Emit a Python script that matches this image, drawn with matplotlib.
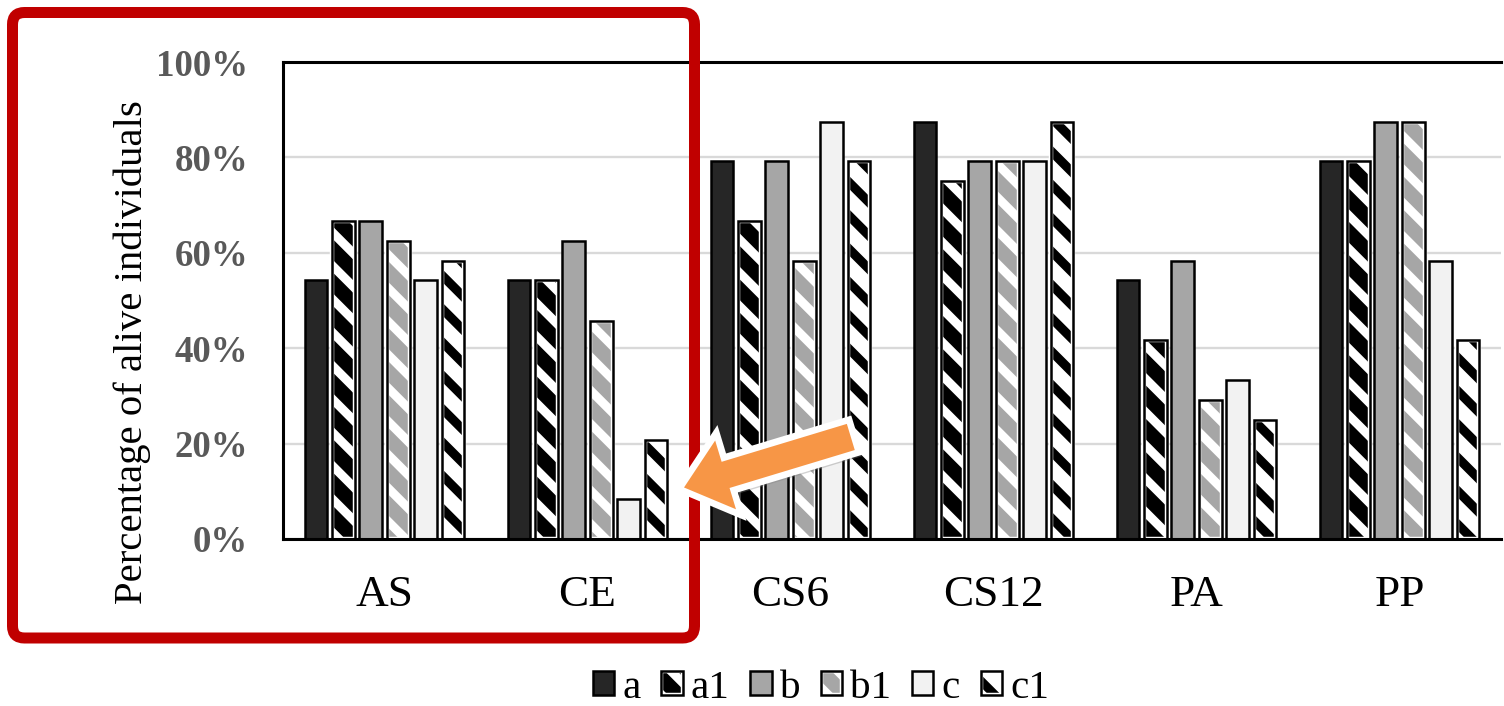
import matplotlib
matplotlib.use('Agg')
import matplotlib.pyplot as plt
import numpy as np
from matplotlib.patches import FancyBboxPatch, FancyArrow, Rectangle
from matplotlib.transforms import IdentityTransform
from matplotlib.ticker import FuncFormatter, FixedLocator

categories = ['AS', 'CE', 'CS6', 'CS12', 'PA', 'PP']
series_names = ['a', 'a1', 'b', 'b1', 'c', 'c1']
a  = [54.2, 54.2, 79.2, 87.5, 54.2, 79.2]
a1 = [66.7, 54.2, 66.7, 75.0, 41.7, 79.2]
b  = [66.7, 62.5, 79.2, 79.2, 58.3, 87.5]
b1 = [62.5, 45.8, 58.3, 79.2, 29.2, 87.5]
c  = [54.2, 8.3, 87.5, 79.2, 33.3, 58.3]
c1 = [58.3, 20.8, 79.2, 87.5, 25.0, 41.7]
y_ticks = [0, 20, 40, 60, 80, 100]
y_label = 'Percentage of alive individuals'

series = [a, a1, b, b1, c, c1]
# (face, hatch, hatch colour, hatch linewidth)
styles = [
    ('#262626', None, None, None),
    ('#000000', '\\\\', '#ffffff', 3.2),
    ('#a6a6a6', None, None, None),
    ('#a6a6a6', '\\\\', '#ffffff', 3.2),
    ('#f2f2f2', None, None, None),
    ('#ffffff', '\\\\', '#000000', 3.3),
]

plt.rcParams['font.family'] = ['Liberation Serif', 'DejaVu Serif']
plt.rcParams['hatch.linewidth'] = 3.2

DPI = 200
W, H = 1504, 706
fig = plt.figure(figsize=(W / DPI, H / DPI), dpi=DPI)
ax = fig.add_axes([283 / W, (H - 539) / H, (1501 - 283) / W, (539 - 62) / H])

x = np.arange(len(categories))
pitch = 0.135
width = 0.113
edge_lw = 0.9
inner_lw = 1.6


def set_hlw(patches, lw):
    for p in patches:
        if hasattr(p, 'set_hatch_linewidth'):
            p.set_hatch_linewidth(lw)


handles = []
for i, (vals, (face, hatch, hcol, hlw)) in enumerate(zip(series, styles)):
    pos = x + (i - 2.5) * pitch
    if hatch:
        bars = ax.bar(pos, vals, width, color=face, edgecolor=hcol, hatch=hatch,
                      linewidth=0, zorder=2)
        set_hlw(bars.patches, hlw)
        ax.bar(pos, vals, width, fill=False, edgecolor='white',
               linewidth=inner_lw, zorder=3)
        ax.bar(pos, vals, width, fill=False, edgecolor='black',
               linewidth=edge_lw, zorder=3.1)
        r = Rectangle((0, 0), 1, 1, facecolor=face, edgecolor=hcol,
                      hatch=hatch, linewidth=0)
        set_hlw([r], hlw)
        h = (r,
             Rectangle((0, 0), 1, 1, fill=False, edgecolor='white',
                       linewidth=inner_lw),
             Rectangle((0, 0), 1, 1, fill=False, edgecolor='black',
                       linewidth=edge_lw))
    else:
        ax.bar(pos, vals, width, color=face, edgecolor='black',
               linewidth=edge_lw, zorder=3)
        h = Rectangle((0, 0), 1, 1, facecolor=face, edgecolor='black',
                      linewidth=edge_lw)
    handles.append(h)

ax.set_xlim(-0.5, len(categories) - 0.5)
ax.set_ylim(0, 100)
ax.yaxis.set_major_locator(FixedLocator(y_ticks))
ax.yaxis.set_major_formatter(FuncFormatter(lambda v, p: f'{v:.0f}%'))
ax.set_xticks(x)
ax.set_xticklabels(categories)
ax.grid(axis='y', color='#d9d9d9', linewidth=0.85, zorder=0)
ax.set_axisbelow(True)
for s in ['top', 'left', 'bottom']:
    ax.spines[s].set_linewidth(1.1)
    ax.spines[s].set_color('black')
    ax.spines[s].set_zorder(5)
ax.spines['right'].set_visible(False)
ax.tick_params(axis='both', length=0)
ax.tick_params(axis='y', pad=12.6, labelsize=13.3, labelcolor='#595959')
for lab in ax.get_yticklabels():
    lab.set_fontweight('bold')
ax.tick_params(axis='x', pad=12.8, labelsize=16.3, labelcolor='black')

ax.set_ylabel(y_label, fontsize=14.7)
ax.yaxis.set_label_coords(-0.108, 0.391)

leg = fig.legend(handles, series_names, loc='center',
                 bbox_to_anchor=(821 / W, 18 / H), ncol=6, frameon=False,
                 fontsize=14.8, handlelength=0.52, handleheight=0.52,
                 handletextpad=0.2, columnspacing=0.5, borderaxespad=0)

# red highlight box (pixel coordinates)
box = FancyBboxPatch((12.5, H - 638), 682, 625.5,
                     boxstyle='round,pad=0,rounding_size=12',
                     fill=False, edgecolor='#c00000', linewidth=3.96,
                     transform=IdentityTransform(), zorder=10)
fig.add_artist(box)

# orange arrow with shadow (pixel coordinates)
tail = (854, H - 436)
tip = (679, H - 489)
dx, dy = tip[0] - tail[0], tip[1] - tail[1]
shadow = FancyArrow(tail[0] + 3, tail[1] - 4, dx, dy, width=34, head_width=86,
                    head_length=52, length_includes_head=True,
                    facecolor='#7f7f7f', edgecolor='none', alpha=0.35,
                    transform=IdentityTransform(), zorder=11)
fig.add_artist(shadow)
arrow = FancyArrow(tail[0], tail[1], dx, dy, width=34, head_width=86,
                   head_length=52, length_includes_head=True,
                   facecolor='#f79646', edgecolor='white', linewidth=2.4,
                   joinstyle='miter',
                   transform=IdentityTransform(), zorder=12)
fig.add_artist(arrow)

fig.savefig('out.png', dpi=DPI)
